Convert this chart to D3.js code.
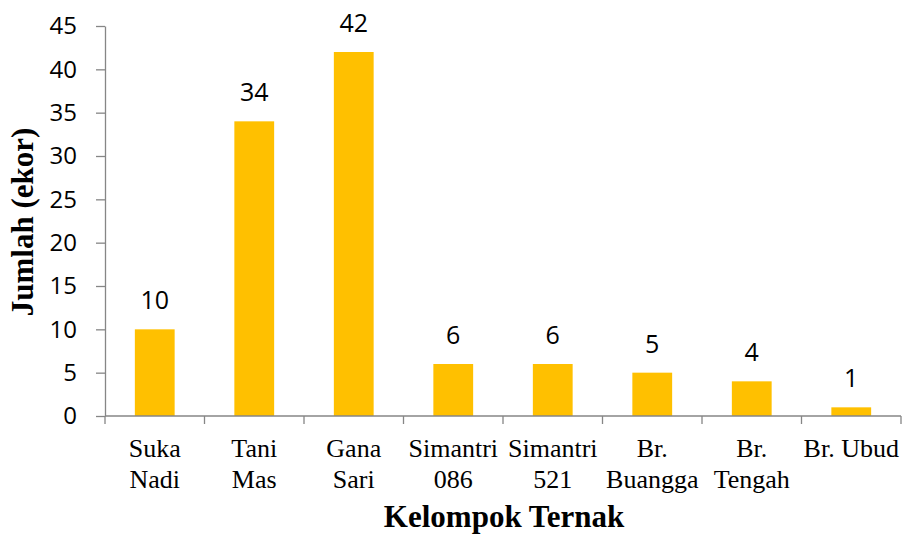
<!DOCTYPE html>
<html>
<head>
<meta charset="utf-8">
<script src="https://cdn.jsdelivr.net/npm/d3@7.9.0/dist/d3.min.js"></script>
<style>
  body { margin: 0; background: #fff; }
</style>
</head>
<body>
<svg id="chart" width="902" height="535"></svg>
<script>
const categories = [["Suka", "Nadi"], ["Tani", "Mas"], ["Gana", "Sari"], ["Simantri", "086"], ["Simantri", "521"], ["Br.", "Buangga"], ["Br.", "Tengah"], ["Br. Ubud"]];
const values = [10, 34, 42, 6, 6, 5, 4, 1];
const yTicks = [0, 5, 10, 15, 20, 25, 30, 35, 40, 45];

const svg = d3.select("#chart");
const margin = { top: 26, right: 1, bottom: 119, left: 105 };
const width = +svg.attr("width") - margin.left - margin.right;
const height = +svg.attr("height") - margin.top - margin.bottom;

const g = svg.append("g")
  .attr("transform", `translate(${margin.left},${margin.top})`);

const idx = d3.range(values.length);
const x = d3.scaleBand()
  .domain(idx)
  .range([0, width])
  .paddingInner(0.6)
  .paddingOuter(0.3);

const y = d3.scaleLinear().domain([0, 45]).range([height, 0]);

const axisColor = "#868686";
const sans = "'Open Sans', 'Liberation Sans', sans-serif";
const serif = "'Liberation Serif', 'Times New Roman', serif";

// bars
g.selectAll(".bar")
  .data(values)
  .enter()
  .append("rect")
  .attr("class", "bar")
  .attr("x", (d, i) => x(i))
  .attr("y", d => y(d))
  .attr("width", x.bandwidth())
  .attr("height", d => height - y(d))
  .attr("fill", "#FFC000");

// value labels
g.selectAll(".val")
  .data(values)
  .enter()
  .append("text")
  .attr("x", (d, i) => x(i) + x.bandwidth() / 2)
  .attr("y", d => y(d) - 20)
  .attr("text-anchor", "middle")
  .style("font-family", sans)
  .style("font-size", "25px")
  .style("fill", "#000")
  .text(d => d);

// y axis
const yAxis = g.append("g")
  .call(d3.axisLeft(y).tickValues(yTicks).tickSize(9).tickPadding(19).tickSizeOuter(0));
yAxis.select(".domain").attr("stroke", axisColor).attr("stroke-width", 1.3);
yAxis.selectAll(".tick line").attr("stroke", axisColor).attr("stroke-width", 1.3);
yAxis.selectAll("text")
  .style("font-family", sans)
  .style("font-size", "24px")
  .style("fill", "#000");

// x axis: line + ticks at band boundaries
const xAxisG = g.append("g").attr("transform", `translate(0,${height})`);
xAxisG.append("line")
  .attr("x1", 0).attr("x2", width)
  .attr("stroke", axisColor).attr("stroke-width", 1.3);
const step = width / values.length;
xAxisG.selectAll(".xtick")
  .data(d3.range(values.length + 1))
  .enter()
  .append("line")
  .attr("x1", d => d * step).attr("x2", d => d * step)
  .attr("y1", 0).attr("y2", 8)
  .attr("stroke", axisColor).attr("stroke-width", 1.3);

// category labels
const catText = xAxisG.selectAll(".cat")
  .data(categories)
  .enter()
  .append("text")
  .attr("text-anchor", "middle")
  .attr("transform", (d, i) => `translate(${x(i) + x.bandwidth() / 2},0)`)
  .style("font-family", serif)
  .style("font-size", "26px")
  .style("fill", "#000");
catText.each(function(lines) {
  const t = d3.select(this);
  lines.forEach((ln, j) => {
    t.append("tspan").attr("x", 0).attr("y", 41 + j * 31).text(ln);
  });
});

// axis titles
svg.append("text")
  .attr("x", 504)
  .attr("y", 527)
  .attr("text-anchor", "middle")
  .style("font-family", serif)
  .style("font-weight", "bold")
  .style("font-size", "31px")
  .text("Kelompok Ternak");

svg.append("text")
  .attr("transform", "translate(33,222) rotate(-90)")
  .attr("text-anchor", "middle")
  .style("font-family", serif)
  .style("font-weight", "bold")
  .style("font-size", "31px")
  .text("Jumlah (ekor)");
</script>
</body>
</html>
